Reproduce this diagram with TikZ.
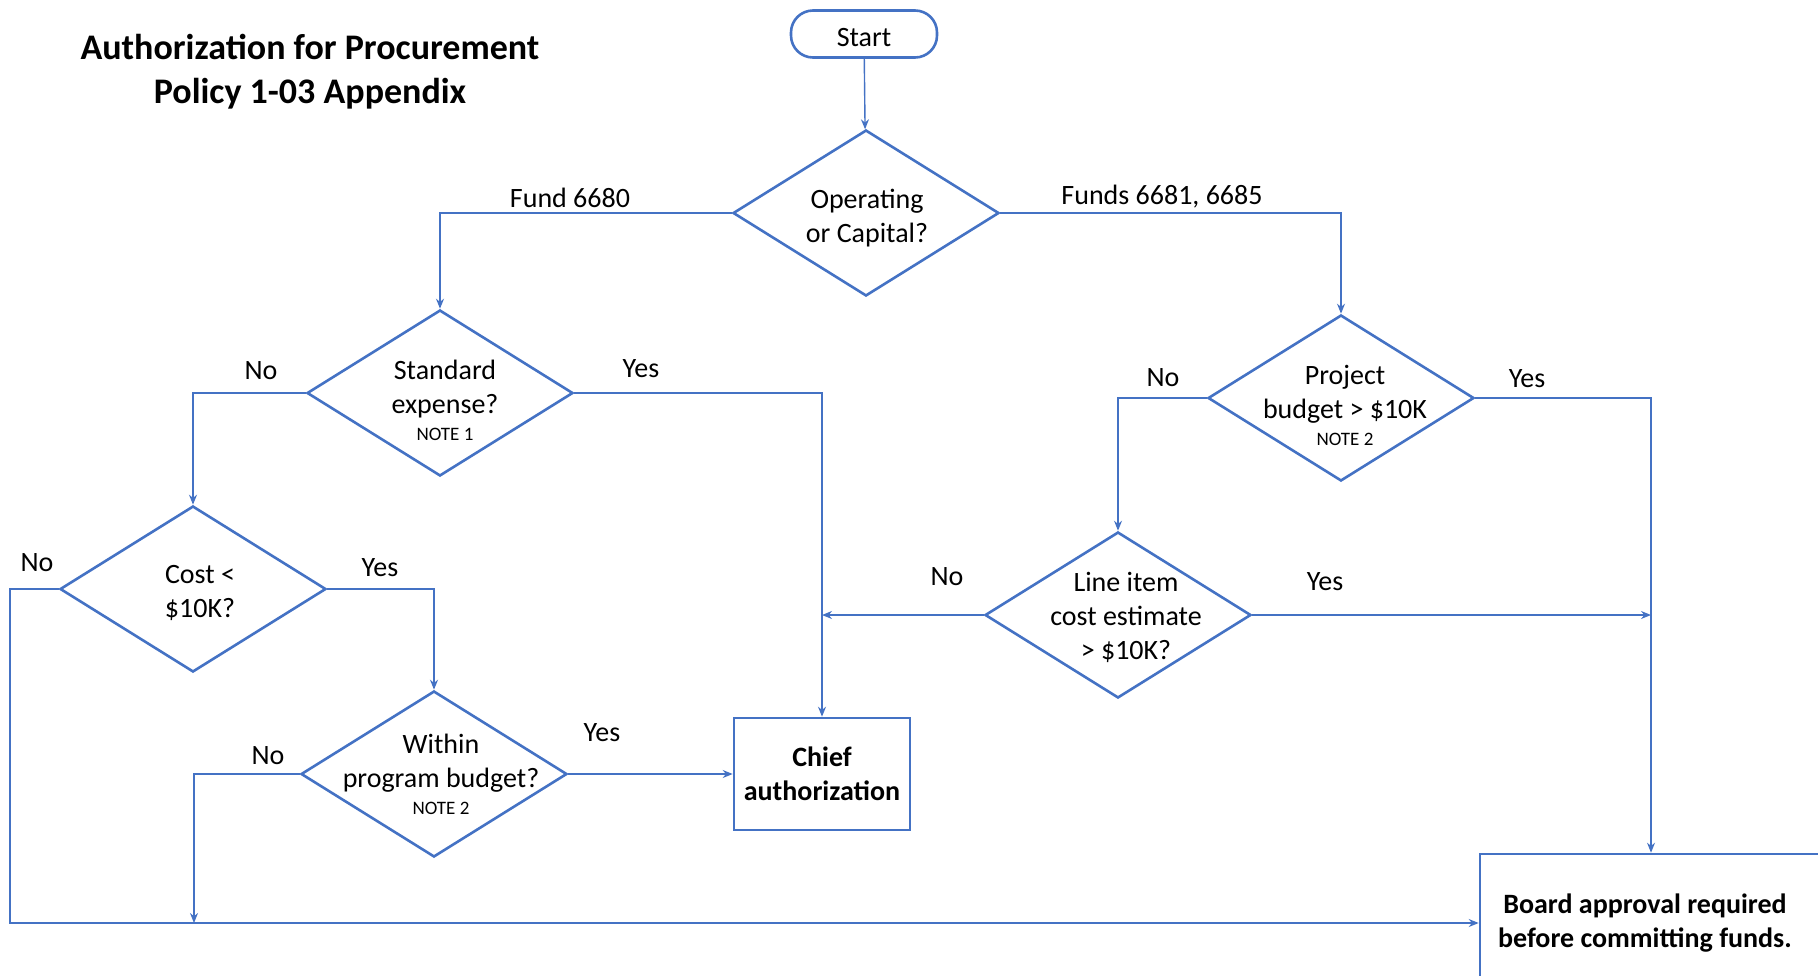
\documentclass[tikz,border=0pt]{standalone}
\usepackage{fontspec}
\setmainfont{Carlito}
\usetikzlibrary{shapes.geometric,arrows.meta}
\definecolor{flowblue}{RGB}{68,114,196}
\newcommand{\bodyfont}{\fontsize{28}{34}\selectfont}
\newcommand{\notefont}{\fontsize{19}{22}\selectfont}
\newcommand{\boxfont}{\fontsize{28}{34}\selectfont\bfseries}
\newcommand{\titlefont}{\fontsize{36}{44}\selectfont\bfseries}
\tikzset{
  dec/.style={diamond, draw=flowblue, line width=2.6pt, aspect=1.6, inner sep=0pt,
    minimum width=266pt, minimum height=166pt},
  dectext/.style={align=center, font=\bodyfont, inner sep=0pt},
  endbox/.style={rectangle, draw=flowblue, line width=2.6pt, align=center, font=\boxfont},
  conn/.style={draw=flowblue, line width=1.4pt, -{Stealth[length=10pt,width=8pt]}},
  lbl/.style={font=\bodyfont, inner sep=0pt}
}
\begin{document}
\begin{tikzpicture}[x=1pt,y=-1pt]
\useasboundingbox (0,0) rectangle (1818,975);
\clip (0,0) rectangle (1818,975);
\node[font=\titlefont, align=center] (title) at (310,72) {Authorization for Procurement\\Policy 1-03 Appendix};
\node[rectangle, rounded corners=22pt, draw=flowblue, line width=2.6pt, font=\bodyfont,
  minimum width=146pt, minimum height=47pt, text height=25pt, text depth=0pt] (start) at (864,34) {Start};
% decisions
\node[dec] (dec0) at (866,213) {};
\node[dectext] (dec0t) at (867,218) {Operating\\or Capital?};
\node[dec] (dec1) at (440,393) {};
\node[dectext] (dec1t) at (445,400) {Standard\\expense?\\[-7pt]{\notefont NOTE 1}};
\node[dec] (dec2) at (1341,398) {};
\node[dectext] (dec2t) at (1345,405) {Project\\budget > \$10K\\[-7pt]{\notefont NOTE 2}};
\node[dec] (dec3) at (193,589) {};
\node[dectext] (dec3t) at (200,593) {Cost <\\\$10K?};
\node[dec] (dec4) at (434,774) {};
\node[dectext] (dec4t) at (441,774) {Within\\program budget?\\[-7pt]{\notefont NOTE 2}};
\node[dec] (dec5) at (1118,615) {};
\node[dectext] (dec5t) at (1126,617) {Line item\\cost estimate\\> \$10K?};
% outcomes
\node[endbox, minimum width=176pt, minimum height=112pt] (chief) at (822,774) {Chief\\authorization};
\node[endbox, minimum width=342pt, minimum height=138pt] (board) at (1651,923) {};
\node[align=center, font=\boxfont, inner sep=0pt] (boardt) at (1645,923) {Board approval required\\before committing funds.};
\coordinate (lft) at (10,589);
\coordinate (jn0) at (194,923);
\coordinate (jn1) at (822,615);
\coordinate (jn2) at (1651,615);
\draw[conn] (start) -- (dec0);
\draw[conn] (dec0.west) -| (dec1.north);
\draw[conn] (dec0.east) -| (dec2.north);
\draw[conn] (dec1.west) -| (dec3.north);
\draw[conn] (dec1.east) -| (chief.north);
\draw[conn] (dec3.east) -| (dec4.north);
\draw[conn] (dec3.west) -- (lft) |- (board.west);
\draw[conn] (dec4.west) -| (jn0);
\draw[conn] (dec4.east) -- (chief.west);
\draw[conn] (dec2.west) -| (dec5.north);
\draw[conn] (dec2.east) -| (board.north);
\draw[conn] (dec5.west) -- (jn1);
\draw[conn] (dec5.east) -- (jn2);
% branch labels
\node[lbl] (l0) at (570,198) {Fund 6680};
\node[lbl] (l1) at (1162,197) {Funds 6681, 6685};
\node[lbl] (l2) at (261,371) {No};
\node[lbl] (l3) at (641,369) {Yes};
\node[lbl] (l4) at (1163,378) {No};
\node[lbl] (l5) at (1527,379) {Yes};
\node[lbl] (l6) at (37,563) {No};
\node[lbl] (l7) at (380,568) {Yes};
\node[lbl] (l8) at (947,577) {No};
\node[lbl] (l9) at (1325,582) {Yes};
\node[lbl] (l10) at (268,756) {No};
\node[lbl] (l11) at (602,733) {Yes};
\end{tikzpicture}
\end{document}
